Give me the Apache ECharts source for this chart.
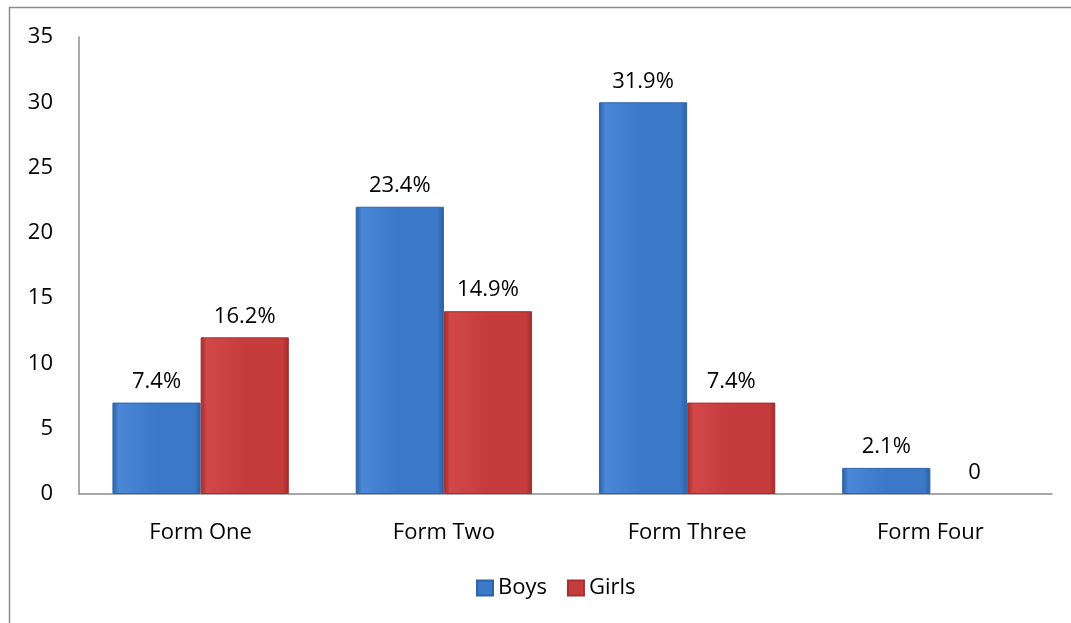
<!DOCTYPE html>
<html><head><meta charset="utf-8">
<script src="https://cdn.jsdelivr.net/npm/echarts@6/dist/echarts.min.js"></script>
<style>html,body{margin:0;padding:0;background:#fff}#c{width:1071px;height:623px}</style>
</head><body><div id="c"></div>
<script>
var categories = ['Form One', 'Form Two', 'Form Three', 'Form Four'];
var boysValues = [7, 22, 30, 2];
var girlsValues = [12, 14, 7, 0];
var boysLabels = ['7.4%', '23.4%', '31.9%', '2.1%'];
var girlsLabels = ['16.2%', '14.9%', '7.4%', '0'];
var yTicks = [0, 5, 10, 15, 20, 25, 30, 35];

var FONT = '"Open Sans", Lato, sans-serif';
var FS = 22;
function grad(dark, mid, light) {
  return new echarts.graphic.LinearGradient(0, 0, 1, 0, [
    {offset: 0, color: dark}, {offset: 0.07, color: light}, {offset: 0.5, color: mid},
    {offset: 0.93, color: mid}, {offset: 1, color: dark}
  ]);
}
var blue = grad('#2c5f9f', '#3b78c8', '#4a87d6');
var red = grad('#9c2b2c', '#c63c3c', '#d24848');

function items(vals) {
  return vals.map(function (v) {
    return v === 0 ? {value: v, itemStyle: {borderWidth: 0, color: 'rgba(0,0,0,0)'}} : {value: v};
  });
}

var chart = echarts.init(document.getElementById('c'));
chart.setOption({
  animation: false,
  graphic: [{type: 'rect', shape: {x: 9.5, y: 7.5, width: 1200, height: 700},
    style: {fill: 'none', stroke: '#8c8c8c', lineWidth: 1.5}, silent: true, z: -1}],
  grid: {left: 79, right: 19, top: 37, bottom: 129},
  legend: {
    bottom: 19, left: 471, itemWidth: 16, itemHeight: 15, itemGap: 20, icon: 'rect',
    textStyle: {fontFamily: FONT, fontSize: FS, color: '#000'},
    data: [{name: 'Boys', itemStyle: {color: '#3b78c8'}}, {name: 'Girls', itemStyle: {color: '#c63c3c'}}]
  },
  xAxis: {
    type: 'category', data: categories,
    axisLine: {lineStyle: {color: '#8c8c8c', width: 1.5}},
    axisTick: {show: false},
    axisLabel: {fontFamily: FONT, fontSize: FS, color: '#000', margin: 28}
  },
  yAxis: {
    type: 'value', min: 0, max: 35, interval: 5,
    axisLine: {show: true, lineStyle: {color: '#8c8c8c', width: 1.5}},
    axisTick: {show: false},
    splitLine: {show: false},
    axisLabel: {fontFamily: FONT, fontSize: FS, color: '#000', margin: 26,
      formatter: function (v) { return yTicks.indexOf(v) >= 0 ? String(v) : ''; }}
  },
  series: [
    {name: 'Boys', type: 'bar', data: items(boysValues), barGap: '0%', barCategoryGap: '27.5%',
     itemStyle: {color: blue, borderColor: '#2d64a8', borderWidth: 1},
     label: {show: true, position: 'top', distance: 10, fontFamily: FONT, fontSize: FS, color: '#000',
       formatter: function (p) { return boysLabels[p.dataIndex]; }}},
    {name: 'Girls', type: 'bar', data: items(girlsValues),
     itemStyle: {color: red, borderColor: '#a83031', borderWidth: 1},
     label: {show: true, position: 'top', distance: 10, fontFamily: FONT, fontSize: FS, color: '#000', opacity: 1,
       formatter: function (p) { return girlsLabels[p.dataIndex]; }}}
  ]
});
</script></body></html>
